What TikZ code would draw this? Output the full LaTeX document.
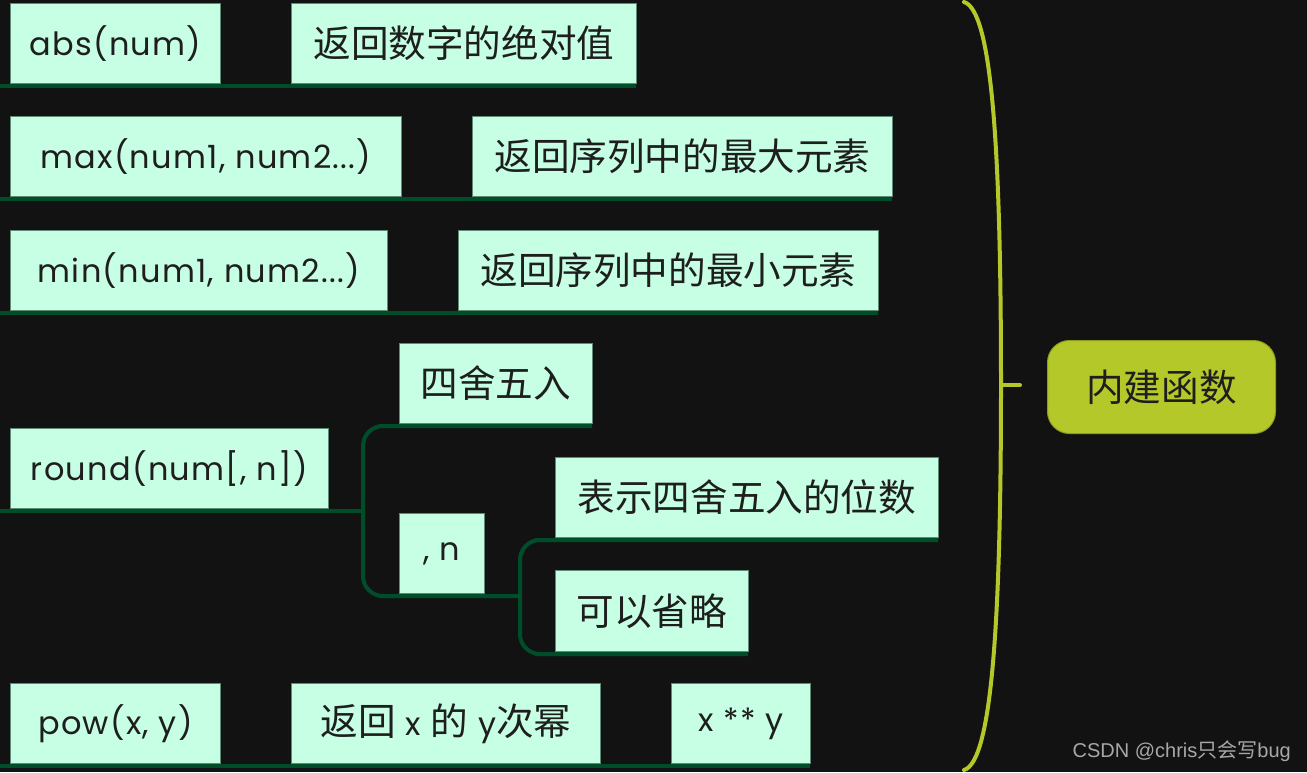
\documentclass[tikz,border=0pt]{standalone}
\usepackage{fontspec}
\setmainfont[LetterSpace=4]{Poppins}
\newfontfamily\cjk[Scale=1.175]{Noto Sans CJK SC}
\newfontfamily\wmfont{Liberation Sans}
\newfontfamily\wmcjk{Noto Sans CJK SC}
\definecolor{bg}{HTML}{121212}
\definecolor{boxfill}{HTML}{C6FFE4}
\definecolor{boxline}{HTML}{5E8A76}
\definecolor{linegreen}{HTML}{004D2A}
\definecolor{olive}{HTML}{B5C82A}
\definecolor{olivedark}{HTML}{8E9C1E}
\definecolor{txt}{HTML}{1E1E1E}
\definecolor{wm}{HTML}{A8A8A8}
\tikzset{
  box/.style={draw=boxline, line width=0.8pt, fill=boxfill, anchor=north west,
    minimum height=80pt, inner sep=0pt, text=txt, font=\fontsize{32}{38}\selectfont},
  conn/.style={draw=linegreen, line width=4pt},
  branchline/.style={conn, rounded corners=20pt},
  bracestroke/.style={draw=olive, line width=4pt, line cap=round},
  rootbox/.style={draw=olivedark, line width=1pt, fill=olive, rounded corners=22pt,
    anchor=north west, minimum width=228pt, minimum height=93pt, inner sep=0pt,
    text=txt, font=\fontsize{32}{38}\selectfont},
}
\begin{document}
\begin{tikzpicture}[x=1pt,y=-1pt]
\fill[bg] (0,0) rectangle (1307,772);
\useasboundingbox (0,0) rectangle (1307,772);

% free ends at the left edge
\coordinate (in1) at (0,86);
\coordinate (in2) at (0,199);
\coordinate (in3) at (0,313);
\coordinate (in4) at (0,511);
\coordinate (in5) at (0,766);
\coordinate (j1) at (363,511);
\coordinate (j2) at (520,596);

% connectors (drawn first, under the boxes)
\draw[conn] (in1) -- (291,86) -- (636,86);
\draw[conn] (in2) -- (472,199) -- (892,199);
\draw[conn] (in3) -- (458,313) -- (878,313);
\draw[conn] (in4) -- (j1);
\draw[branchline] (j1) |- (399,426) -- (592,426);
\draw[branchline] (j1) |- (399,596) -- (j2);
\draw[branchline] (j2) |- (555,540) -- (938,540);
\draw[branchline] (j2) |- (555,654) -- (748,654);
\draw[conn] (in5) -- (810,766);

% nodes
\node[box, minimum width=210pt] (abs) at (10,3) {abs(num)};
\node[box, minimum width=345pt] (absd) at (291,3) {\cjk 返回数字的绝对值};
\node[box, minimum width=391pt] (max) at (10,116) {max(num1, num2...)};
\node[box, minimum width=420pt] (maxd) at (472,116) {\cjk 返回序列中的最大元素};
\node[box, minimum width=377pt] (min) at (10,230) {min(num1, num2...)};
\node[box, minimum width=420pt] (mind) at (458,230) {\cjk 返回序列中的最小元素};
\node[box, minimum width=318pt] (round) at (10,428) {round(num[, n])};
\node[box, minimum width=193pt] (four) at (399,343) {\cjk 四舍五入};
\node[box, minimum width=85pt] (nn) at (399,513) {, n};
\node[box, minimum width=383pt] (digits) at (555,457) {\cjk 表示四舍五入的位数};
\node[box, minimum width=193pt, minimum height=81pt] (omit) at (555,570) {\cjk 可以省略};
\node[box, minimum width=210pt] (pow) at (10,683) {pow(x, y)};
\node[box, minimum width=309pt] (powd) at (291,683) {{\cjk 返回} x {\cjk 的} y{\cjk 次幂}};
\node[box, minimum width=139pt] (powe) at (671,683) {x ** y};

% brace and root
\draw[bracestroke] (964,2) .. controls (992,10) and (1001,150) .. (1001,385)
  .. controls (1001,620) and (992,762) .. (964,770);
\coordinate (tick) at (1001,385);
\node[rootbox] (root) at (1047,340) {\cjk 内建函数};
\draw[bracestroke] (tick) -- (1020,385);

% watermark
\node[anchor=south east, inner sep=0pt, text=wm, font=\fontsize{20}{24}\selectfont] (wmark)
  at (1291,762) {\wmfont CSDN @chris{\wmcjk 只会写}bug};
\end{tikzpicture}
\end{document}
